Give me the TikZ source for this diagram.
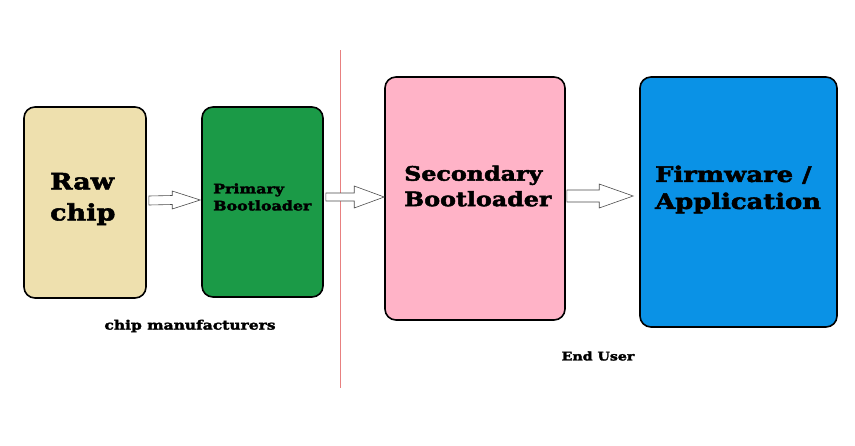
\documentclass[tikz,border=0pt]{standalone}
\usepackage{fontspec}
\setmainfont{DejaVu Serif}[BoldFeatures={FakeStretch=1.2,FakeBold=2.4}]
\usetikzlibrary{calc}
\definecolor{rawc}{HTML}{EEE0AE}
\definecolor{primc}{HTML}{1B9A47}
\definecolor{secc}{HTML}{FFB3C7}
\definecolor{firmc}{HTML}{0A92E6}
\definecolor{divc}{HTML}{E88080}
\newcommand\blockarr[5]{\draw[arr] ($(#1)+(0,#3)$) -- ($(#2)+(-#5,#3)$) -- ($(#2)+(-#5,#4)$) -- (#2) -- ($(#2)+(-#5,-#4)$) -- ($(#2)+(-#5,-#3)$) -- ($(#1)+(0,-#3)$) -- cycle;}
\begin{document}
\begin{tikzpicture}[x=1pt,y=-1pt,
  box/.style={draw=black,line width=1.6pt,rounded corners=11pt,inner sep=0pt},
  lbl/.style={anchor=west,align=left,text=black,inner sep=0pt},
  arr/.style={draw=black!70,line width=0.6pt,fill=white},
  note/.style={inner sep=0pt}]
\useasboundingbox[fill=white] (0,0) rectangle (855,445);
\draw[divc,line width=0.8pt] (340,50) -- (340,388);
\node[box,fill=rawc,minimum width=122pt,minimum height=191pt] (raw) at (85,202.5) {};
\node[box,fill=primc,minimum width=121pt,minimum height=190pt] (prim) at (262.5,202) {};
\node[box,fill=secc,minimum width=180pt,minimum height=243pt] (sec) at (475,198.5) {};
\node[box,fill=firmc,minimum width=197pt,minimum height=250pt] (firm) at (738.5,202) {};
\node[lbl,font=\bfseries\fontsize{22.5}{31}\selectfont] (rawt) at (50,199) {Raw\\chip};
\node[lbl,font=\bfseries\fontsize{13.2}{17}\selectfont] (primt) at (213,197) {Primary\\Bootloader};
\node[lbl,font=\bfseries\fontsize{19.8}{25.5}\selectfont] (sect) at (404,186) {Secondary\\Bootloader};
\node[lbl,font=\bfseries\fontsize{21.5}{27}\selectfont] (firmt) at (655,189.5) {Firmware /\\Application};
\node[note,font=\bfseries\fontsize{12.9}{14}\selectfont] (cm) at (190,326) {chip manufacturers};
\node[note,font=\bfseries\fontsize{11.8}{13}\selectfont] (eu) at (598,356) {End User};
\coordinate (a1s) at ($(raw.east)+(2,-2)$);
\coordinate (a1e) at ($(prim.west)+(-1,-2)$);
\coordinate (a2s) at ($(prim.east)+(2,-5)$);
\coordinate (a2e) at ($(sec.west)+(0,-1.5)$);
\coordinate (a3s) at ($(sec.east)+(1,-2.5)$);
\coordinate (a3e) at ($(firm.west)+(-6,-6)$);
\blockarr{a1s}{a1e}{4.5}{9}{28}
\blockarr{a2s}{a2e}{4}{11}{30}
\blockarr{a3s}{a3e}{6}{12}{34}
\end{tikzpicture}
\end{document}
